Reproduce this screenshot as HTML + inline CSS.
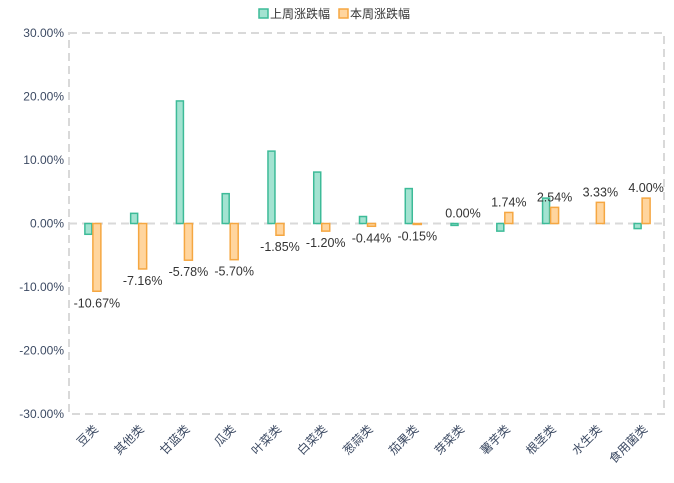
<!DOCTYPE html>
<html><head><meta charset="utf-8"><style>
body{margin:0;background:#fff;font-family:"Liberation Sans","Noto Sans CJK SC",sans-serif}
</style></head><body>
<svg id="c" width="674" height="478" style="font-family:'Liberation Sans','Noto Sans CJK SC',sans-serif"></svg>
<script>
const categories=["豆类","其他类","甘蓝类","瓜类","叶菜类","白菜类","葱蒜类","茄果类","芽菜类","薯芋类","根茎类","水生类","食用菌类"];
const lastWeek=[-1.7,1.6,19.3,4.7,11.4,8.1,1.1,5.5,-0.3,-1.2,4.0,0,-0.8];
const thisWeek=[-10.67,-7.16,-5.78,-5.70,-1.85,-1.20,-0.44,-0.15,0.00,1.74,2.54,3.33,4.00];
const yTicks=[30,20,10,0,-10,-20,-30];
const NS="http://www.w3.org/2000/svg";
const svg=document.getElementById('c');
const L=69,R=664,T=33,B=414;
const bw=(R-L)/categories.length;
const y=v=>T+(30-v)/60*(B-T);
const xc=i=>L+bw*(i+0.5);
function mk(t,a,p){const e=document.createElementNS(NS,t);for(const k in a)e.setAttribute(k,a[k]);(p||svg).appendChild(e);return e;}
let f=mk('rect',{x:L,y:T,width:R-L,height:B-T,fill:'none',stroke:'#d9d9d9','stroke-width':2,'stroke-dasharray':'8,5'});


let z=mk('line',{x1:L,x2:R,y1:y(0),y2:y(0),stroke:'#d9d9d9','stroke-width':2,'stroke-dasharray':'8,5'});


yTicks.forEach(v=>{
 const t=mk('text',{x:L-5,y:y(v)+4,'text-anchor':'end','font-size':12,fill:'#3c4a63'});
 t.textContent=v.toFixed(2)+'%';
 
 
});
categories.forEach((c,i)=>{
 const x=xc(i);
 const a=lastWeek[i],b=thisWeek[i];
 if(a!==0){
 const r1=mk('rect',{x:x-7,y:Math.min(y(a),y(0)),width:7,height:Math.max(Math.abs(y(a)-y(0)),0.5),fill:'#a3e3d1',stroke:'#3dbb98','stroke-width':1.5});
 
 
 }
 if(b!==0){
 const r2=mk('rect',{x:x+1,y:Math.min(y(b),y(0)),width:8,height:Math.max(Math.abs(y(b)-y(0)),0.5),fill:'#ffd59e',stroke:'#f5a742','stroke-width':1.5});
 
 
 }
 const lb=mk('text',{x:x+5,y:b>=0?y(b)-6:y(b)+16,'text-anchor':'middle','font-size':12.5,fill:'#333'});
 lb.textContent=b.toFixed(2)+'%';
 
 
 const ct=mk('text',{x:0,y:0,'text-anchor':'end','font-size':12,fill:'#3c4a63',transform:`translate(${x+7},${B+16}) rotate(-45)`});
 ct.textContent=c;
 
 
});
const lg=mk('g',{});


const l1=mk('rect',{x:259,y:9,width:9,height:9,fill:'#a3e3d1',stroke:'#3dbb98','stroke-width':1.5},lg);


const t1=mk('text',{x:270,y:18,'font-size':12,fill:'#333'},lg);t1.textContent='上周涨跌幅';


const l2=mk('rect',{x:339,y:9,width:9,height:9,fill:'#ffd59e',stroke:'#f5a742','stroke-width':1.5},lg);


const t2=mk('text',{x:350,y:18,'font-size':12,fill:'#333'},lg);t2.textContent='本周涨跌幅';


</script>
</body></html>
